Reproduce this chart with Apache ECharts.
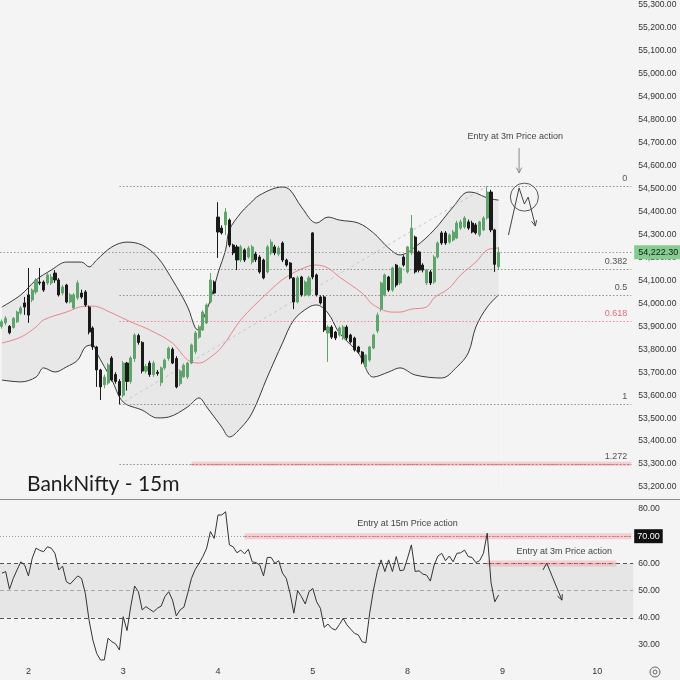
<!DOCTYPE html>
<html>
<head>
<meta charset="utf-8">
<script src="https://cdn.jsdelivr.net/npm/echarts@6/dist/echarts.min.js"></script>
<style>
html,body{margin:0;padding:0;background:#f4f4f4;}
#c{width:680px;height:680px;}
</style>
</head>
<body>
<div id="c"></div>
<script>
// ---------------- DATA ----------------
const DAY_LABELS = ['1','2','3','4','5','8','9','10','11'];
const BARS_PER_DAY = 25;
const FIRST_DAY_BARS = 7;
const SLOT_COUNT = 167;

// [open, close, low, high]
const candles = [
[53900,53920,53890,53930],[53915,53935,53905,53945],[53900,53872,53865,53905],[53895,53935,53890,53940],
[53920,53962,53915,53968],[53958,53980,53950,53988],[54002,53984,53950,54028],[54037,53949,53915,54154],
[54015,54058,54005,54065],[54050,54102,54040,54110],[54093,54089,54080,54154],[54093,54058,54050,54100],
[54089,54124,54080,54132],[54089,54115,54080,54128],[54132,54102,54089,54145],[54102,54037,54030,54110],
[54045,54071,54035,54080],[54080,54006,54000,54085],[54006,54037,54000,54045],[53980,54037,53975,54045],
[54024,54089,54015,54100],[54045,54028,54020,54060],[54050,53993,53985,54058],[53984,53875,53865,53990],
[53893,53810,53797,53900],[53810,53710,53636,53815],[53710,53636,53579,53715],[53645,53679,53630,53690],
[53653,53732,53645,53740],[53762,53666,53660,53770],[53690,53660,53650,53700],[53660,53600,53560,53670],
[53600,53740,53590,53748],[53740,53660,53620,53745],[53660,53762,53650,53770],[53760,53862,53745,53870],
[53860,53830,53820,53868],[53830,53705,53695,53835],[53705,53725,53695,53735],[53740,53690,53680,53750],
[53690,53740,53680,53750],[53700,53695,53685,53710],[53655,53719,53640,53725],[53719,53753,53710,53760],
[53760,53805,53750,53812],[53800,53740,53735,53808],[53760,53636,53630,53770],[53650,53705,53640,53712],
[53680,53730,53675,53738],[53680,53740,53670,53745],[53740,53819,53735,53825],[53790,53871,53780,53880],
[53853,53897,53845,53905],[53884,53962,53880,53970],[53915,53993,53910,54000],[54006,54102,54000,54132],
[54093,54045,54040,54100],[54376,54311,54198,54441],[54328,54307,54300,54340],[54342,54398,54298,54415],
[54363,54254,54245,54370],[54254,54220,54210,54260],[54246,54189,54145,54255],[54189,54246,54180,54255],
[54233,54189,54180,54240],[54202,54241,54195,54250],[54180,54246,54170,54255],[54215,54190,54180,54225],
[54202,54137,54130,54210],[54189,54111,54105,54195],[54137,54246,54130,54255],[54220,54267,54210,54280],
[54246,54220,54210,54255],[54215,54241,54205,54250],[54263,54189,54180,54270],[54189,54167,54160,54195],
[54176,54111,54105,54180],[54111,54006,53975,54115],[54006,54111,54000,54120],[54115,54037,54030,54120],
[54037,54093,54030,54100],[54037,54111,54030,54120],[54307,54115,54105,54310],[54124,54037,54030,54130],
[54028,54002,53995,54035],[54028,53884,53875,54035],[53871,53897,53745,53905],[53897,53853,53845,53905],
[53875,53849,53840,53880],[53862,53893,53855,53900],[53849,53897,53840,53905],[53897,53849,53840,53905],
[53862,53832,53825,53868],[53849,53797,53790,53855],[53810,53788,53780,53815],[53788,53745,53735,53792],
[53723,53775,53715,53780],[53753,53810,53745,53815],[53806,53862,53800,53868],[53880,53949,53870,53960],
[53975,54089,53965,54095],[54037,54124,54030,54130],[54115,54058,54050,54120],[54058,54154,54050,54160],
[54167,54080,54070,54172],[54089,54154,54080,54160],[54202,54167,54160,54210],[54137,54246,54130,54250],
[54220,54328,54210,54385],[54289,54137,54130,54295],[54224,54145,54135,54230],[54167,54145,54135,54175],
[54089,54145,54080,54150],[54137,54089,54080,54145],[54093,54202,54085,54210],[54202,54263,54195,54270],
[54307,54263,54255,54315],[54307,54263,54255,54315],[54267,54298,54260,54305],[54276,54311,54270,54320],
[54285,54350,54280,54360],[54328,54355,54320,54365],[54333,54372,54325,54380],[54355,54328,54320,54365],
[54350,54311,54305,54360],[54342,54307,54300,54350],[54298,54355,54290,54360],[54320,54372,54315,54380],
[54372,54485,54365,54511],[54485,54320,54310,54495],[54320,54170,54137,54325],[54160,54222.3,54145,54245]
];

const rsiValues = [
56.4,57.0,50.5,54.5,57.6,60.6,59.4,55.4,61.9,65.6,
64.8,64.3,66.1,65.6,63.7,57.6,59.0,53.3,52.4,53.9,
55.4,54.5,49.0,39.0,31.8,26.9,24.5,24.5,32.5,31.2,
30.4,28.2,40.4,35.3,44.3,51.7,49.6,42.9,44.1,43.1,
42.2,43.5,44.3,47.8,49.6,46.5,40.7,42.9,43.9,49.0,
54.5,57.8,60.0,62.5,65.6,71.7,69.2,77.8,77.8,79.0,
66.8,66.1,63.9,64.9,63.5,65.2,60.6,60.3,59.4,55.4,
62.2,62.2,60.0,61.0,56.4,54.5,49.0,41.7,50.0,47.8,
45.1,49.6,50.8,45.9,43.5,36.5,37.7,36.1,35.5,37.5,
39.8,37.4,35.8,34.3,33.7,31.2,30.8,41.7,50.2,57.0,
61.3,57.0,61.3,57.0,62.5,57.3,57.6,62.0,66.8,57.0,
57.3,56.1,55.7,53.5,59.4,62.7,63.7,61.0,62.7,60.6,
63.7,63.9,64.9,62.5,62.2,60.3,61.0,63.7,71.1,53.0,
45.9,48.4
];

// Bollinger bands: [bar index, price]
const bbUpper = [[0,53984],[5,54037],[9,54102],[13,54145],[17,54180],[21,54180],[23,54159],[25,54189],[29,54246],[33,54267],[37,54254],[41,54202],[45,54102],[49,53984],[51,53893],[52,53884],[53,53928],[55,54015],[57,54132],[59,54233],[60,54320],[63,54394],[65,54428],[68,54472],[74,54507],[76,54494],[79,54420],[83,54350],[86,54376],[89,54363],[94,54350],[98,54307],[102,54241],[105,54211],[109,54246],[114,54320],[119,54420],[123,54485],[125,54481],[128,54459],[131,54450]];
const bbLower = [[0,53666],[5,53658],[9,53679],[11,53719],[14,53701],[17,53723],[20,53753],[22,53810],[24,53819],[25,53784],[29,53666],[32,53570],[37,53535],[41,53501],[44,53505],[49,53549],[52,53588],[54,53549],[58,53461],[60,53418],[63,53457],[66,53523],[70,53679],[74,53827],[77,53928],[81,53984],[83,53993],[86,53958],[89,53871],[94,53784],[98,53679],[102,53701],[105,53719],[109,53688],[116,53675],[120,53723],[123,53784],[125,53897],[128,53984],[131,54037]];
const bbBasis = [[0,53827],[5,53853],[9,53897],[11,53928],[17,53962],[22,53988],[24,53988],[29,53958],[34,53919],[39,53884],[45,53827],[49,53753],[52,53740],[54,53753],[58,53810],[63,53928],[70,54045],[75,54115],[81,54163],[83,54167],[86,54154],[89,54115],[95,54045],[98,53993],[103,53962],[105,53962],[108,53975],[112,53984],[114,54024],[118,54067],[121,54124],[125,54180],[128,54233],[131,54241]];

// Fibonacci retracement
const FIB_LOW = 53560, FIB_HIGH = 54511;
const FIB_LOW_IDX = 31, FIB_HIGH_IDX = 128, FIB_END_IDX = 166;
const fibRatios = ['0','0.382','0.5','0.618','1','1.272'];
const fibPrices = [54511, 54148, 54035, 53923, 53560, 53301];
const fibColors = ['#555','#555','#555','#e06c78','#555','#555'];
const FIB_BAND_START = 50;
const LAST_PRICE = 54222.30;

// RSI levels and zones
const rsiZoneLow = 40, rsiZoneHigh = 60, rsiMid = 50, rsiOver = 70;
const rsiBands = [{from:64,to:166,level:70},{from:128,to:162,level:60}];

// Hand-drawn annotations in data units [bar index, value]
const mainNoteText = {text:'Entry at 3m Price action', at:[135.4, 54729]};
const mainArrow = [[136.4,54677],[136.4,54568]];
const mainCircle = {at:[137.8,54463], r:14};
const mainZigzag = [[133.6,54298],[136.4,54503],[137.8,54433],[138.8,54463],[140.7,54337]];
const rsiNotes = [{text:'Entry at 15m Price action', at:[107,74.5]},{text:'Entry at 3m Price action', at:[148.3,64.2]}];
const rsiArrow = [[142.7,57.6],[143.7,60.1],[147.7,46.5]];

// ---------------- BUILD ----------------
const BG = '#f4f4f4';
const FONT = 'Liberation Sans';
const categories = [], dayStart = [];
for (let i = 0; i < SLOT_COUNT; i++) {
  const k = i - FIRST_DAY_BARS;
  const d = k < 0 ? 0 : 1 + Math.floor(k / BARS_PER_DAY);
  categories.push(DAY_LABELS[d] + '#' + i);
  dayStart.push(k >= 0 && k % BARS_PER_DAY === 0);
}
const fmt = v => v.toLocaleString('en-US',{minimumFractionDigits:2, maximumFractionDigits:2});

const SLOT = 3.8;
const gridLeft = -1.4, gridWidth = SLOT * SLOT_COUNT;

const fibMarkLines = fibRatios.map((r, k) => [{
    coord:[FIB_LOW_IDX, fibPrices[k]],
    lineStyle:{color: k===3 ? '#e88a93' : '#8f8f8f', type:[1.5,2], width:1},
    label:{show:true, position:'insideEndTop', formatter:r, color:fibColors[k], fontSize:9, fontFamily:FONT, distance:[4,3]}
  },{coord:[FIB_END_IDX, fibPrices[k]]}]);

const option = {
  animation:false,
  backgroundColor: BG,
  grid:[
    {left:gridLeft, width:gridWidth, top:5, height:482},
    {left:gridLeft, width:gridWidth, top:509, height:136}
  ],
  xAxis:[
    {type:'category', gridIndex:0, data:categories, boundaryGap:true, show:false},
    {type:'category', gridIndex:1, data:categories, boundaryGap:true,
      axisLine:{show:false}, axisTick:{show:false},
      axisLabel:{interval:(i)=>dayStart[i], formatter:v=>v.split('#')[0], color:'#333', fontSize:9, fontFamily:FONT, margin:22}}
  ],
  yAxis:[
    {type:'value', gridIndex:0, position:'right', min:53200, max:55300, interval:100,
      splitLine:{show:false}, axisLine:{show:false}, axisTick:{show:false},
      axisLabel:{formatter:fmt, color:'#333', fontSize:8.6, fontFamily:FONT, margin:5}},
    {type:'value', gridIndex:1, position:'right', min:30, max:80, interval:10,
      splitLine:{show:false}, axisLine:{show:false}, axisTick:{show:false},
      axisLabel:{formatter:v => v===70 ? '' : fmt(v), color:'#333', fontSize:8.6, fontFamily:FONT, margin:5}}
  ],
  series:[
    {type:'line', name:'bbUpper', xAxisIndex:0, yAxisIndex:0, data:bbUpper, smooth:0.35, symbol:'none', z:1,
      lineStyle:{color:'#3a3a3a', width:1}, areaStyle:{color:'#e8e8e8', opacity:1, origin:'start'}},
    {type:'line', name:'bbLower', xAxisIndex:0, yAxisIndex:0, data:bbLower, smooth:0.35, symbol:'none', z:2,
      lineStyle:{color:'#3a3a3a', width:1}, areaStyle:{color:BG, opacity:1, origin:'start'}},
    {type:'line', name:'basis', xAxisIndex:0, yAxisIndex:0, data:bbBasis, smooth:0.35, symbol:'none', z:3,
      lineStyle:{color:'#e8858b', width:1}},
    {type:'candlestick', name:'BankNifty', xAxisIndex:0, yAxisIndex:0, data:candles, barWidth:2.6, z:6,
      itemStyle:{color:'#5fa56b', color0:'#1a1a1a', borderColor:'#5fa56b', borderColor0:'#1a1a1a', borderWidth:1},
      markArea:{silent:true, z:4, itemStyle:{color:'rgba(240,110,120,0.28)'},
        data:[[{coord:[FIB_BAND_START, fibPrices[5]-9]},{coord:[FIB_END_IDX, fibPrices[5]+9]}]]},
      markLine:{silent:true, z:5, symbol:['none','none'],
        data:[
          ...fibMarkLines,
          [{coord:[FIB_BAND_START, fibPrices[5]], lineStyle:{color:'#e06c78', type:[2,2], width:1}, label:{show:false}},
           {coord:[FIB_END_IDX, fibPrices[5]]}],
          [{coord:[FIB_LOW_IDX, FIB_LOW], lineStyle:{color:'#c8c8c8', type:[3,3], width:1}, label:{show:false}},
           {coord:[FIB_HIGH_IDX, FIB_HIGH]}],
          {yAxis:LAST_PRICE, lineStyle:{color:'#9a9a9a', type:[1.5,2], width:1},
            label:{show:true, position:'end', distance:1, formatter:fmt(LAST_PRICE), color:'#1a1a1a',
              backgroundColor:'#84cc90', padding:[3,4,2,4], fontSize:9, fontFamily:FONT}}
        ]}
    },
    {type:'line', name:'RSI', xAxisIndex:1, yAxisIndex:1, data:rsiValues, symbol:'none', clip:false, z:6,
      lineStyle:{color:'#333', width:1},
      markArea:{silent:true, z:1,
        data:[
          [{yAxis:rsiZoneLow, itemStyle:{color:'#e6e6e6'}},{yAxis:rsiZoneHigh}],
          ...rsiBands.map(b => [{coord:[b.from, b.level-1.1], itemStyle:{color:'rgba(240,110,120,0.28)'}},{coord:[b.to, b.level+1.1]}])
        ]},
      markLine:{silent:true, z:5, symbol:['none','none'],
        data:[
          {yAxis:rsiZoneHigh, lineStyle:{color:'#555', type:[4,3], width:1}, label:{show:false}},
          {yAxis:rsiZoneLow, lineStyle:{color:'#555', type:[4,3], width:1}, label:{show:false}},
          {yAxis:rsiMid, lineStyle:{color:'#aaa', type:[4,3], width:1}, label:{show:false}},
          {yAxis:rsiOver, lineStyle:{color:'#9a9a9a', type:[1,2], width:1},
            label:{show:true, position:'end', distance:1, formatter:fmt(rsiOver), color:'#fff', backgroundColor:'#111',
              padding:[3,3,2,3], fontSize:9, fontFamily:FONT}},
          ...rsiBands.map(b => [{coord:[b.from, b.level], lineStyle:{color:'#e06c78', type:[2,2], width:1}, label:{show:false}},{coord:[b.to, b.level]}])
        ]}
    }
  ]
};

const chart = echarts.init(document.getElementById('c'));
chart.setOption(option);

function toPx(g, idx, val) {
  const i0 = Math.floor(idx), f = idx - i0;
  const a = chart.convertToPixel({gridIndex:g}, [i0, val]);
  const b = chart.convertToPixel({gridIndex:g}, [i0 + 1, val]);
  return [a[0] + f * (b[0] - a[0]), a[1]];
}
function head(p, q, len, ang) {
  const a = Math.atan2(q[1]-p[1], q[0]-p[0]);
  return [[q[0]-len*Math.cos(a-ang), q[1]-len*Math.sin(a-ang)], q, [q[0]-len*Math.cos(a+ang), q[1]-len*Math.sin(a+ang)]];
}
const g = [];
function textAt(grid, note) {
  const p = toPx(grid, note.at[0], note.at[1]);
  g.push({type:'text', x:p[0], y:p[1], z:20, style:{text:note.text, fill:'#444', font:'9px "Liberation Sans"', textAlign:'center', textVerticalAlign:'middle'}});
}
function arrowPath(grid, pts, color) {
  const px = pts.map(p => toPx(grid, p[0], p[1]));
  g.push({type:'polyline', z:20, shape:{points:px}, style:{stroke:color, lineWidth:1, fill:null}});
  g.push({type:'polyline', z:20, shape:{points:head(px[px.length-2], px[px.length-1], 6, 0.45)}, style:{stroke:color, lineWidth:1, fill:null}});
}
textAt(0, mainNoteText);
arrowPath(0, mainArrow, '#888');
const cc = toPx(0, mainCircle.at[0], mainCircle.at[1]);
g.push({type:'circle', z:20, shape:{cx:cc[0], cy:cc[1], r:mainCircle.r}, style:{stroke:'#555', lineWidth:1, fill:null}});
arrowPath(0, mainZigzag, '#444');
rsiNotes.forEach(n => textAt(1, n));
arrowPath(1, rsiArrow, '#333');

g.push({type:'line', z:20, shape:{x1:0, y1:499.5, x2:680, y2:499.5}, style:{stroke:'#8a8a8a', lineWidth:1}});
g.push({type:'text', z:20, x:27, y:484, style:{text:'BankNifty - 15m', fill:'#1e1e1e', font:'400 21px Lato', textVerticalAlign:'middle'}});
g.push({type:'circle', z:20, shape:{cx:655, cy:672, r:5}, style:{stroke:'#666', lineWidth:1, fill:null}});
g.push({type:'circle', z:20, shape:{cx:655, cy:672, r:2}, style:{stroke:'#666', lineWidth:1, fill:null}});
chart.setOption({graphic:g});
</script>
</body>
</html>
